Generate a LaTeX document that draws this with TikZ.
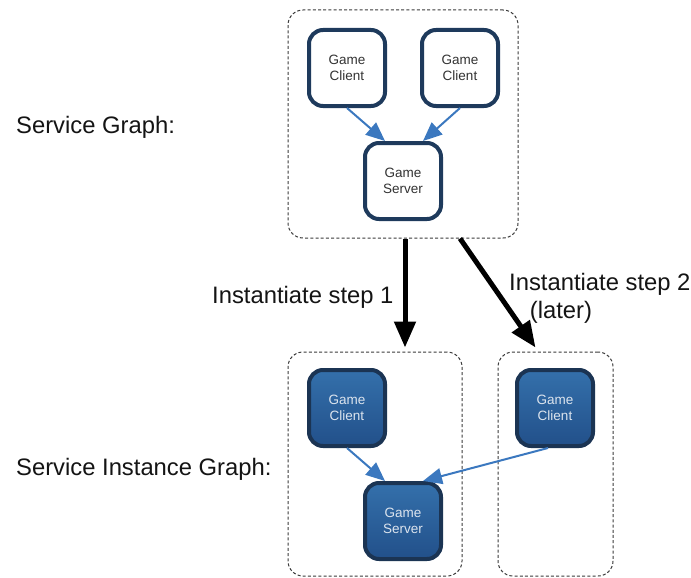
\documentclass[tikz,border=0pt]{standalone}
\usepackage{fontspec}
\setmainfont{Liberation Sans}
\usetikzlibrary{arrows.meta,calc}
\definecolor{navyline}{HTML}{1E3A5C}
\definecolor{fillTop}{HTML}{3470AB}
\definecolor{fillBot}{HTML}{22508A}
\definecolor{edgeblue}{HTML}{3B78BF}
\definecolor{boxgray}{HTML}{3A3A3A}
\definecolor{labeltext}{HTML}{141414}
\definecolor{lighttext}{HTML}{DCE4EE}
\tikzset{
  x=1pt, y=-1pt,
  svcnode/.style={draw=navyline, line width=4pt, rounded corners=14pt,
    minimum width=76pt, minimum height=76pt, inner sep=0pt, align=center,
    font=\fontsize{13.5}{15.5}\selectfont, text=black!80},
  plainnode/.style={svcnode, fill=white},
  instnode/.style={svcnode, draw=navyline!90!black, top color=fillTop, bottom color=fillBot, text=lighttext},
  groupbox/.style={draw=boxgray, line width=1pt, dash pattern=on 3pt off 2.2pt,
    rounded corners=15pt, inner sep=0pt},
  depedge/.style={draw=edgeblue, line width=2pt,
    -{Triangle[length=19pt, width=16pt]}},
  stepedge/.style={draw=black, line width=5pt,
    -{Triangle[length=26pt, width=21pt]}},
  biglabel/.style={inner sep=0pt, text=labeltext, font=\fontsize{23.8}{28}\selectfont},
}
\begin{document}
\begin{tikzpicture}
\useasboundingbox (0,0) rectangle (691,578);

% group outlines
\node[groupbox, minimum width=230pt, minimum height=228pt] (g1) at (403,124) {};
\node[groupbox, minimum width=174pt, minimum height=224pt] (b1) at (375,464) {};
\node[groupbox, minimum width=115pt, minimum height=224pt] (b2) at (555.5,464) {};

% service graph
\node[plainnode] (tc1) at (347,68) {Game\\Client};
\node[plainnode] (tc2) at (460,68) {Game\\Client};
\node[plainnode] (ts) at (403,181) {Game\\Server};

% service instance graph
\node[instnode] (bc1) at (347,408) {Game\\Client};
\node[instnode] (bc2) at (555,408) {Game\\Client};
\node[instnode] (bs) at (403,521) {Game\\Server};

% dependencies
\draw[depedge] (tc1.south) -- ($(ts.north)+(-18,0)$);
\draw[depedge] (tc2.south) -- ($(ts.north)+(20,0)$);
\draw[depedge] (bc1.south) -- ($(bs.north)+(-18,0)$);
\draw[depedge] ($(bc2.south)+(-7,0)$) -- ($(bs.north)+(20,0)$);

% instantiation steps
\coordinate (s2start) at ($(g1.south)+(57,0)$);
\coordinate (s2end) at ($(b2.north)+(-20,-4)$);
\draw[stepedge] ($(g1.south)+(2,0)$) -- ($(g1.south |- b1.north)+(2,-4)$);
\draw[stepedge] (s2start) -- (s2end);

% labels
\node[biglabel, anchor=base west] (lsg) at (16,133) {Service Graph:};
\node[biglabel, anchor=base west] (lsig) at (16,475) {Service Instance Graph:};
\node[biglabel, anchor=base west] (ls1) at (212,303) {Instantiate step 1};
\node[biglabel, anchor=base west] (ls2) at (509,290) {Instantiate step 2};
\node[biglabel, anchor=base] (ls2b) at (561,318) {(later)};
\end{tikzpicture}
\end{document}
